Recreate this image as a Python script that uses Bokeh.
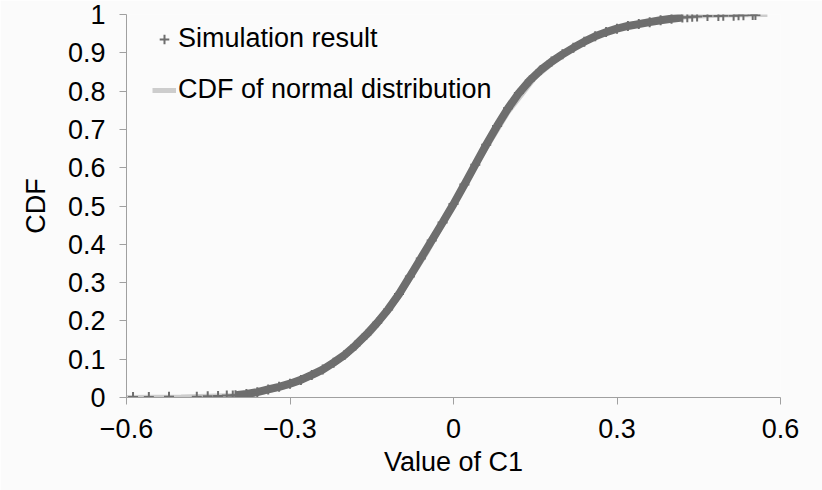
import numpy as np
from bokeh.plotting import figure
from bokeh.models import Range1d, FixedTicker, Legend, LegendItem
from bokeh.embed import file_html
from bokeh.resources import INLINE

# Simulated values of C1 and their empirical CDF
sim_x = [-0.588, -0.559, -0.522, -0.471, -0.451, -0.432, -0.416, -0.405,
         -0.40, -0.38, -0.36, -0.34, -0.32, -0.30, -0.28, -0.26, -0.24, -0.22,
         -0.20, -0.18, -0.16, -0.14, -0.12, -0.10, -0.08, -0.06, -0.04, -0.02,
         0.00, 0.02, 0.04, 0.06, 0.08, 0.10, 0.12, 0.14, 0.16, 0.18, 0.20,
         0.22, 0.24, 0.26, 0.28, 0.30, 0.32, 0.34, 0.36, 0.38, 0.40, 0.42,
         0.429, 0.438, 0.447, 0.466, 0.486, 0.495, 0.514, 0.523, 0.532, 0.549, 0.554]
sim_cdf = [0.001, 0.001, 0.002, 0.002, 0.003, 0.004, 0.005, 0.005,
           0.006, 0.009, 0.014, 0.021, 0.028, 0.036, 0.046, 0.059, 0.073, 0.091,
           0.111, 0.136, 0.164, 0.195, 0.230, 0.270, 0.316, 0.363, 0.410, 0.457,
           0.505, 0.556, 0.608, 0.660, 0.709, 0.755, 0.795, 0.828, 0.855, 0.877, 0.896,
           0.913, 0.929, 0.943, 0.954, 0.963, 0.970, 0.975, 0.980, 0.985, 0.989, 0.992,
           0.993, 0.994, 0.995, 0.996, 0.996, 0.997, 0.997, 0.998, 0.998, 0.999, 0.999]

# Fitted normal distribution CDF
norm_x = [-0.60, -0.50, -0.40, -0.35, -0.30, -0.25, -0.20, -0.15, -0.10, -0.05,
          0.00, 0.05, 0.10, 0.15, 0.20, 0.25, 0.30, 0.35, 0.40, 0.45, 0.50, 0.576]
norm_cdf = [0.000, 0.001, 0.005, 0.014, 0.032, 0.061, 0.106, 0.172, 0.264, 0.376,
            0.503, 0.628, 0.745, 0.836, 0.895, 0.938, 0.965, 0.982, 0.991, 0.996, 0.999, 1.000]

x_ticks = [-0.6, -0.3, 0, 0.3, 0.6]
x_tick_labels = ["\u22120.6", "\u22120.3", "0", "0.3", "0.6"]
y_ticks = [0, 0.1, 0.2, 0.3, 0.4, 0.5, 0.6, 0.7, 0.8, 0.9, 1]
y_tick_labels = ["0", "0.1", "0.2", "0.3", "0.4", "0.5", "0.6", "0.7", "0.8", "0.9", "1"]

FONT = "Liberation Sans"
FS = "27px"
SIM_COLOR = "#6e6e6e"
NORM_COLOR = "#cdcdcd"
BG = "#fbfbfb"

p = figure(width=822, height=490, output_backend="svg", toolbar_location=None,
           x_range=Range1d(-0.6, 0.6), y_range=Range1d(0, 1),
           min_border_left=126, min_border_right=42,
           min_border_top=14, min_border_bottom=93)
p.background_fill_color = BG
p.border_fill_color = BG
p.outline_line_color = None
p.xgrid.visible = False
p.ygrid.visible = False

norm_r = p.line(norm_x, norm_cdf, line_color=NORM_COLOR, line_width=5)

# dense part of the sample drawn as a band, individual points as crosses
sx = np.array(sim_x)
sy = np.array(sim_cdf)
dense = (sx >= -0.40) & (sx <= 0.42)
p.line(sx[dense], sy[dense], line_color=SIM_COLOR, line_width=8)
sim_r = p.scatter(sx, sy, marker="cross", size=10, line_color=SIM_COLOR, line_width=2)

for ax, ticks, labels in ((p.xaxis[0], x_ticks, x_tick_labels), (p.yaxis[0], y_ticks, y_tick_labels)):
    ax.ticker = FixedTicker(ticks=ticks)
    ax.major_label_overrides = {t: l for t, l in zip(ticks, labels)}
    ax.axis_line_color = "#a0a0a0"
    ax.major_tick_line_color = "#a0a0a0"
    ax.major_tick_out = 7
    ax.major_tick_in = 0
    ax.minor_tick_line_color = None
    ax.major_label_text_font = FONT
    ax.major_label_text_font_size = FS
    ax.major_label_text_color = "black"
    ax.axis_label_text_font = FONT
    ax.axis_label_text_font_size = FS
    ax.axis_label_text_font_style = "normal"
    ax.axis_label_text_color = "black"

p.xaxis.major_label_standoff = 14
p.yaxis.major_label_standoff = 14
p.xaxis.axis_label = "Value of C1"
p.yaxis.axis_label = "CDF"
p.xaxis.axis_label_standoff = 6
p.yaxis.axis_label_standoff = 14

legend = Legend(items=[LegendItem(label="Simulation result", renderers=[sim_r]),
                       LegendItem(label="CDF of normal distribution", renderers=[norm_r])],
                location=(26, 292), padding=0, margin=0, spacing=20,
                glyph_width=24, glyph_height=30, label_height=30, label_standoff=2,
                label_text_font=FONT, label_text_font_size=FS, label_text_color="black",
                border_line_color=None, background_fill_alpha=0)
p.add_layout(legend)

open("out.html", "w").write(file_html(p, INLINE))
